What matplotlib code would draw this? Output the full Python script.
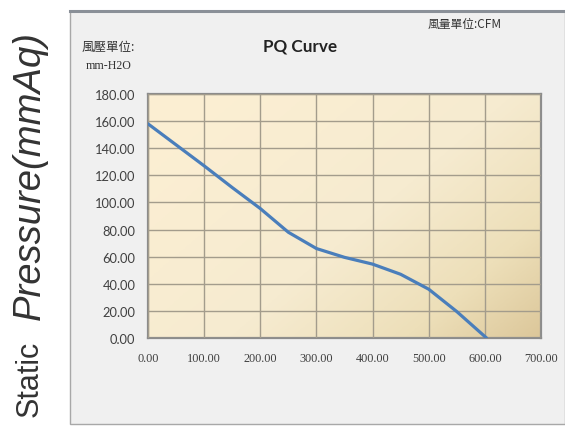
import numpy as np
import matplotlib
matplotlib.use("Agg")
import matplotlib.pyplot as plt
from matplotlib.patches import Rectangle
from matplotlib.colors import LinearSegmentedColormap

flow_cfm = [0, 50, 100, 150, 200, 250, 300, 350, 400, 450, 500, 550, 603]
pressure = [158, 142.5, 127, 111, 95.5, 78, 66, 59.5, 54.5, 47, 36, 19.5, 0]
x_ticks = [0, 100, 200, 300, 400, 500, 600, 700]
y_ticks = [0, 20, 40, 60, 80, 100, 120, 140, 160, 180]
title = "PQ Curve"
y_unit = "風壓單位:"
y_unit2 = "mm-H2O"
x_unit = "風量單位:CFM"

W, H = 565, 427
fig = plt.figure(figsize=(W/100, H/100), dpi=100)
fig.patch.set_facecolor("white")

# panel
panel = Rectangle((70/W, 1-425/H), 1-70/W, (425-12)/H, transform=fig.transFigure,
                  facecolor="#f0f0f0", edgecolor="#a8a8a8", lw=1.0, zorder=-5)
fig.patches.append(panel)
fig.add_artist(plt.Line2D([70/W, 1], [1-12/H, 1-12/H], transform=fig.transFigure,
                          color="#8a9098", lw=2.2, zorder=-4))

ax = fig.add_axes([148/W, 1-339/H, (541-148)/W, (339-95)/H])
ax.set_zorder(2)
ax.set_xlim(0, 700)
ax.set_ylim(0, 180)

# gradient background
cmap = LinearSegmentedColormap.from_list(
    "bg", [(0, "#fcefd3"), (0.45, "#f6ebd0"), (0.75, "#eddfb9"), (1, "#dcc79a")])
gx, gy = np.meshgrid(np.linspace(0, 1, 200), np.linspace(0, 1, 200))
g = np.clip((gx * 0.62 + gy * 0.45), 0, 1.07) / 1.07
g = g ** 1.3
ax.imshow(g, extent=[0, 700, 0, 180], origin="upper", aspect="auto", cmap=cmap,
          zorder=0, interpolation="bilinear")

ax.set_xticks(x_ticks)
ax.set_yticks(y_ticks)
ax.grid(True, color="#a39c8c", lw=1.0, zorder=1)
ax.set_axisbelow(False)
ax.plot(flow_cfm, pressure, color="#4a7ebb", lw=2.3, zorder=3,
        solid_joinstyle="round", solid_capstyle="round")

for s in ax.spines.values():
    s.set_color("#8c8c8c")
    s.set_linewidth(1.6)
ax.tick_params(length=0)
ax.set_xticklabels([f"{v:.2f}" for v in x_ticks], family="Liberation Serif",
                   fontsize=8.8, color="#404040")
ax.set_yticklabels([f"{v:.2f}" for v in y_ticks], family="Lato", fontsize=9.3,
                   color="#404040")
ax.tick_params(axis="x", pad=10)
ax.tick_params(axis="y", pad=9)

fig.text(300/W, 1-47/H, title, family="Lato", weight="bold", fontsize=12.3,
         ha="center", va="center", color="#222222")
fig.text(82/W, 1-47/H, y_unit, family=["Noto Sans CJK TC", "DejaVu Sans"],
         fontsize=9, ha="left", va="center", color="#333333")
fig.text(86/W, 1-66/H, y_unit2, family="Liberation Serif", fontsize=8.6,
         ha="left", va="center", color="#333333")
fig.text(502/W, 1-24/H, x_unit, family=["Noto Sans CJK TC", "DejaVu Sans"],
         fontsize=8.5, ha="right", va="center", color="#333333")

fig.text(30/W, 1-379/H, "Static", family="Liberation Sans", fontsize=22,
         rotation=90, ha="center", va="center", color="#333333")
fig.text(30/W, 1-176/H, "Pressure(mmAq)", family="Liberation Sans", style="italic",
         fontsize=27.5, rotation=90, ha="center", va="center", color="#333333")

fig.savefig("out.png", dpi=100, facecolor="white")
